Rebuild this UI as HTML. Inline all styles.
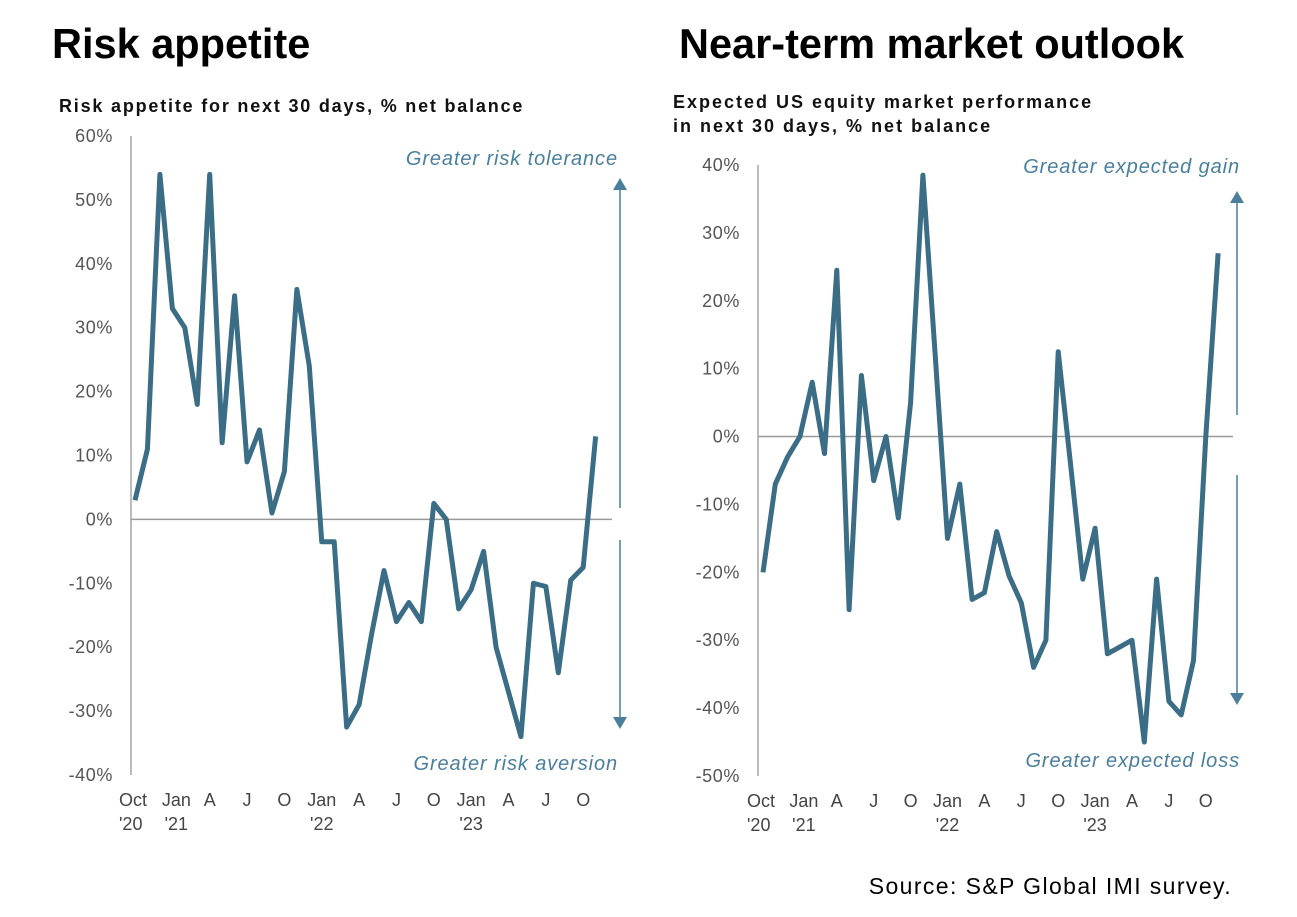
<!DOCTYPE html>
<html><head><meta charset="utf-8"><style>
body{margin:0;background:#fff;width:1297px;height:917px;overflow:hidden;font-family:"Liberation Sans",Arial,sans-serif}
svg{position:absolute;left:0;top:0}
</style></head><body>
<svg id="s" width="1297" height="917">
<text x="52" y="58" font-size="41.5" font-weight="bold" fill="#000">Risk appetite</text>
<text x="679" y="58" font-size="41.5" font-weight="bold" fill="#000">Near-term market outlook</text>
<text x="59" y="112" font-size="18" font-weight="bold" letter-spacing="1.8" fill="#111">Risk appetite for next 30 days, % net balance</text>
<text x="673" y="108" font-size="18" font-weight="bold" letter-spacing="2" fill="#111">Expected US equity market performance</text>
<text x="673" y="132" font-size="18" font-weight="bold" letter-spacing="2" fill="#111">in next 30 days, % net balance</text>
<text x="1232" y="894" font-size="23" letter-spacing="1.4" text-anchor="end" fill="#000">Source: S&amp;P Global IMI survey.</text>
<g id="L"></g><g id="R"></g>
</svg>
<script>
const leftValues=[3,11,54,33,30,18,54,12,35,9,14,1,7.5,36,24,-3.5,-3.5,-32.5,-29,-18,-8,-16,-13,-16,2.5,0,-14,-11,-5,-20,-27,-34,-10,-10.5,-24,-9.5,-7.5,13];
const rightValues=[-20,-7,-3,0,8,-2.5,24.5,-25.5,9,-6.5,0,-12,5,38.5,12,-15,-7,-24,-23,-14,-20.5,-24.5,-34,-30,12.5,-4,-21,-13.5,-32,-31,-30,-45,-21,-39,-41,-33,0,27];
const leftTicks=[60,50,40,30,20,10,0,-10,-20,-30,-40];
const rightTicks=[40,30,20,10,0,-10,-20,-30,-40,-50];
const xLabels=["Oct","Jan","A","J","O","Jan","A","J","O","Jan","A","J","O"];
const xLabelIdx=[0,3,6,9,12,15,18,21,24,27,30,33,36];
const yearLabels=["'20","'21","'22","'23"];
const yearIdx=[0,3,15,27];
const NS="http://www.w3.org/2000/svg";
function mk(g,t,a){const e=document.createElementNS(NS,t);for(const k in a)e.setAttribute(k,a[k]);g.appendChild(e);return e;}
function chart(gid,vals,ticks,cfg){
  const g=document.getElementById(gid);
  const tmax=ticks[0],tmin=ticks[ticks.length-1];
  const y=v=>cfg.yTop+(tmax-v)/(tmax-tmin)*(cfg.yBot-cfg.yTop);
  const x=i=>cfg.x0+i*cfg.dx;
  let e=mk(g,'line',{x1:cfg.ax,x2:cfg.ax,y1:cfg.yTop,y2:cfg.yBot,stroke:'#bbb','stroke-width':2});
  
  e=mk(g,'line',{x1:cfg.ax,x2:cfg.zEnd,y1:y(0),y2:y(0),stroke:'#999','stroke-width':1.5});
  
  ticks.forEach(t=>{const tx=mk(g,'text',{x:cfg.ax-18,y:y(t)+6,'text-anchor':'end','font-size':18,'letter-spacing':0.6,fill:'#555'});tx.textContent=t+'%';
    });
  xLabels.forEach((l,k)=>{const tx=mk(g,'text',{x:x(xLabelIdx[k])+(k==0?-16:k==1?4:0),y:cfg.yBot+31,'text-anchor':k==0?'start':'middle','font-size':18,fill:'#444'});tx.textContent=l;
    });
  yearLabels.forEach((l,k)=>{const tx=mk(g,'text',{x:x(yearIdx[k])+(k==0?-16:k==1?4:0),y:cfg.yBot+55,'text-anchor':k==0?'start':'middle','font-size':18,fill:'#444'});tx.textContent=l;
    });
  const p=mk(g,'polyline',{points:vals.map((v,i)=>x(i)+','+y(v)).join(' '),fill:'none',stroke:'#3b6e86','stroke-width':5,'stroke-linejoin':'round'});
  
  const c='#4a7f9c';
  e=mk(g,'line',{x1:cfg.arX,x2:cfg.arX,y1:cfg.arTop+8,y2:cfg.gap[0],stroke:c,'stroke-width':1.5});
  
  e=mk(g,'line',{x1:cfg.arX,x2:cfg.arX,y1:cfg.gap[1],y2:cfg.arBot-8,stroke:c,'stroke-width':1.5});
  
  e=mk(g,'polygon',{points:`${cfg.arX-7},${cfg.arTop+12} ${cfg.arX+7},${cfg.arTop+12} ${cfg.arX},${cfg.arTop}`,fill:c});
  
  e=mk(g,'polygon',{points:`${cfg.arX-7},${cfg.arBot-12} ${cfg.arX+7},${cfg.arBot-12} ${cfg.arX},${cfg.arBot}`,fill:c});
  
  let t=mk(g,'text',{x:cfg.txR,y:cfg.topTxtY,'text-anchor':'end','font-size':20,'letter-spacing':0.9,'font-style':'italic',fill:c});t.textContent=cfg.topTxt;
  
  t=mk(g,'text',{x:cfg.txR,y:cfg.botTxtY,'text-anchor':'end','font-size':20,'letter-spacing':0.9,'font-style':'italic',fill:c});t.textContent=cfg.botTxt;
  
}
chart('L',leftValues,leftTicks,{yTop:136,yBot:775,ax:131,x0:135,dx:12.45,zEnd:612,arX:620,arTop:178,arBot:729,gap:[508,540],txR:618,topTxt:'Greater risk tolerance',topTxtY:165,botTxt:'Greater risk aversion',botTxtY:770});
chart('R',rightValues,rightTicks,{yTop:165,yBot:776,ax:758,x0:763,dx:12.3,zEnd:1233,arX:1237,arTop:191,arBot:705,gap:[415,475],txR:1240,topTxt:'Greater expected gain',topTxtY:173,botTxt:'Greater  expected loss',botTxtY:767});
</script>
</body></html>
